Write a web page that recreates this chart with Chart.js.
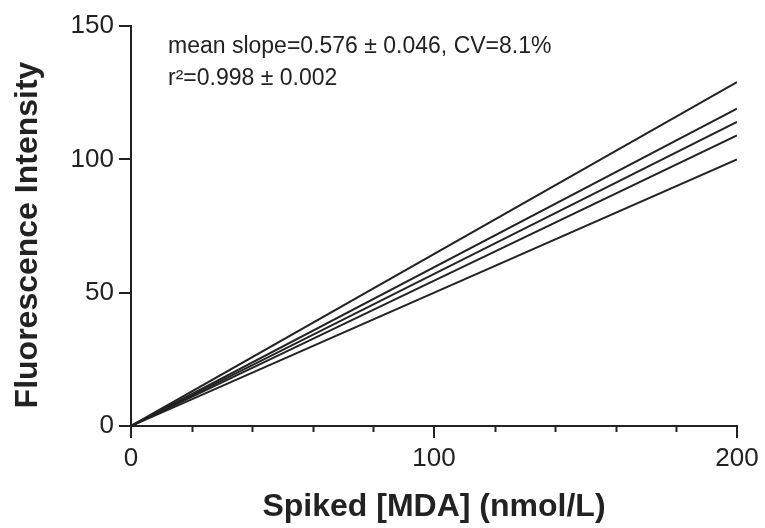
<!DOCTYPE html>
<html>
<head>
<meta charset="utf-8">
<script src="https://cdn.jsdelivr.net/npm/chart.js@4.4.1/dist/chart.umd.min.js"></script>
<style>
  html, body { margin: 0; padding: 0; background: #fff; }
  #wrap { width: 765px; height: 528px; }
</style>
</head>
<body>
<div id="wrap"><canvas id="chart"></canvas></div>
<script>
"use strict";

// spiked concentration range (nmol/L)
const xStart = 0;
const xEnd = 200;
// fluorescence at 200 nmol/L for each calibration line (all start at 0)
const endValues = [129, 119, 114, 109, 100];
const yTicks = [0, 50, 100, 150];
const xLabels = [0, 100, 200];
const xMinor = [20, 40, 60, 80, 120, 140, 160, 180];
const yTitle = "Fluorescence Intensity";
const xTitle = "Spiked [MDA] (nmol/L)";
const noteLines = ["mean slope=0.576 \u00b1 0.046, CV=8.1%", "r\u00b2=0.998 \u00b1 0.002"];

const ink = "#222";
const font = "'Liberation Sans', Arial, sans-serif";

const datasets = endValues.map(v => ({
    data: [{ x: xStart, y: 0 }, { x: xEnd, y: v }],
    showLine: true,
    borderColor: ink,
    borderWidth: 2,
    pointRadius: 0,
    fill: false,
}));

// note text, y title and the short minor ticks on the x axis
const extrasPlugin = {
    id: "extras",
    afterDraw(chart) {
        const { ctx, chartArea, scales } = chart;
        ctx.save();
        ctx.fillStyle = ink;
        ctx.font = "23px " + font;
        ctx.textBaseline = "alphabetic";
        ctx.fillText(noteLines[0], chartArea.left + 37, chartArea.top + 27);
        ctx.fillText(noteLines[1], chartArea.left + 37, chartArea.top + 59);

        ctx.translate(37, 235);
        ctx.rotate(-Math.PI / 2);
        ctx.font = "bold 32px " + font;
        ctx.textAlign = "center";
        ctx.fillText(yTitle, 0, 0);
        ctx.restore();

        ctx.save();
        ctx.strokeStyle = ink;
        ctx.lineWidth = 2;
        ctx.beginPath();
        xMinor.forEach(v => {
            const px = Math.round(scales.x.getPixelForValue(v)) + 0.5;
            ctx.moveTo(px, chartArea.bottom);
            ctx.lineTo(px, chartArea.bottom + 6);
        });
        ctx.stroke();
        ctx.restore();
    }
};

new Chart(document.getElementById("chart"), {
    type: "scatter",
    data: { datasets },
    plugins: [extrasPlugin],
    options: {
        responsive: true,
        maintainAspectRatio: false,
        animation: false,
        layout: { padding: { left: 8, right: 28, top: 26, bottom: 2 } },
        plugins: { legend: { display: false }, tooltip: { enabled: false } },
        scales: {
            x: {
                type: "linear",
                min: xStart,
                max: xEnd,
                afterBuildTicks: s => { s.ticks = xLabels.map(v => ({ value: v })); },
                border: { display: true, color: ink, width: 2 },
                grid: { drawOnChartArea: false, drawTicks: true, tickLength: 12, color: ink, lineWidth: 2 },
                ticks: {
                    autoSkip: false,
                    maxRotation: 0,
                    color: ink,
                    padding: 5,
                    font: { family: font, size: 26 }
                },
                title: {
                    display: true,
                    text: xTitle,
                    color: ink,
                    font: { family: font, size: 32, weight: "bold" },
                    padding: { top: 14, bottom: 0 }
                },
                afterFit: s => { s.height = 100; }
            },
            y: {
                min: 0,
                max: 150,
                afterBuildTicks: s => { s.ticks = yTicks.map(v => ({ value: v })); },
                border: { display: true, color: ink, width: 2 },
                grid: { drawOnChartArea: false, drawTicks: true, tickLength: 12, color: ink, lineWidth: 2 },
                ticks: {
                    color: ink,
                    padding: 5,
                    font: { family: font, size: 26 }
                },
                title: { display: false },
                afterFit: s => { s.width = 123; }
            }
        }
    }
});
</script>
</body>
</html>
